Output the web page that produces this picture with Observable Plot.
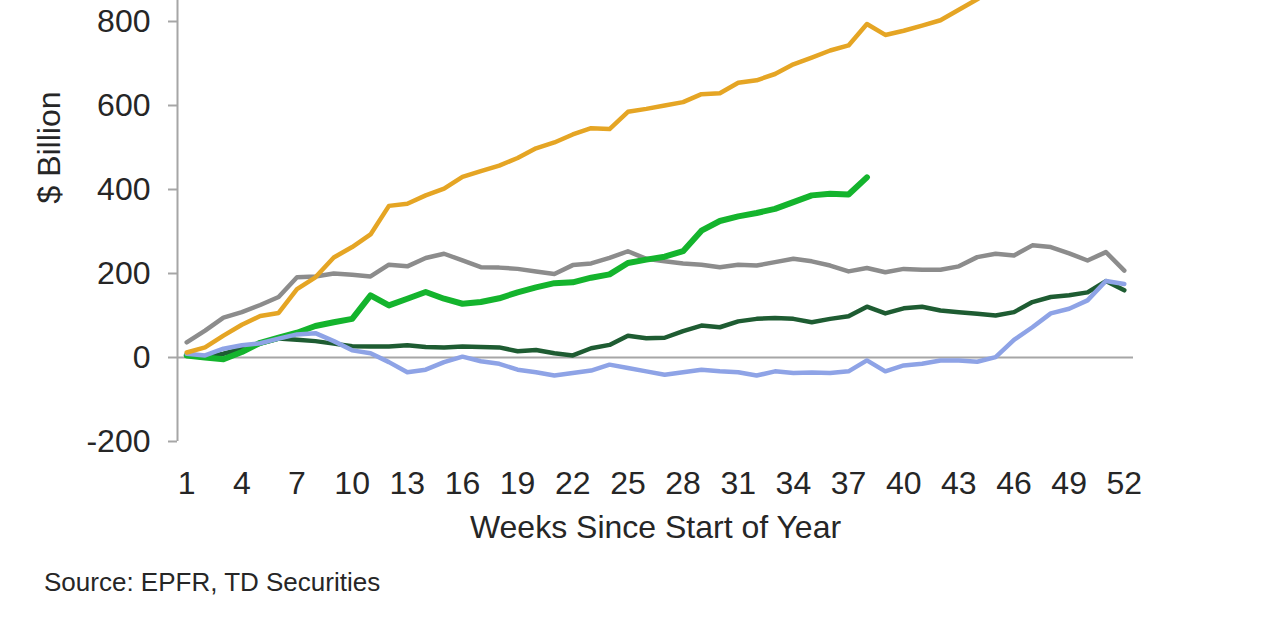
<!DOCTYPE html>
<html>
<head>
<meta charset="utf-8">
<script src="https://cdn.jsdelivr.net/npm/d3@7"></script>
<script src="https://cdn.jsdelivr.net/npm/@observablehq/plot@0.6"></script>
<style>
  html, body { margin: 0; padding: 0; background: #ffffff; overflow: hidden; }
  #chart svg { display: block; margin-top: -147px; }
  #caption {
    font-family: "Liberation Sans", Arial, sans-serif;
    font-size: 26px; line-height: 30px; color: #262626;
    margin: 16px 0 0 44px;
  }
</style>
</head>
<body>
<div id="chart"></div>
<div id="caption">Source: EPFR, TD Securities</div>
<script>
// Categories: weeks since start of year
const weeks = [1,2,3,4,5,6,7,8,9,10,11,12,13,14,15,16,17,18,19,20,21,22,23,24,25,26,
               27,28,29,30,31,32,33,34,35,36,37,38,39,40,41,42,43,44,45,46,47,48,49,50,51,52];

// Series values ($ billion)
const orangeSeries = [12,24,52,78,99,106,163,191,238,263,293,361,366,386,402,430,444,457,475,498,
                      512,531,546,544,585,592,600,608,627,629,654,660,675,698,714,731,743,794,768,778,
                      790,803,828,853,880,null,null,null,null,null,null,null];
const brightGreenSeries = [5,0,-4,13,35,47,59,75,84,92,148,124,140,156,140,128,132,141,155,167,
                      177,179,190,198,225,233,240,253,302,325,336,344,354,370,386,390,388,429,null,null,
                      null,null,null,null,null,null,null,null,null,null,null,null];
const greySeries = [36,64,95,108,125,144,191,193,200,197,193,221,217,237,247,231,215,214,211,205,
                      199,220,224,237,253,235,229,224,221,215,221,219,227,235,229,219,205,213,203,211,
                      209,209,217,239,247,243,267,263,248,231,251,207];
const darkGreenSeries = [5,0,9,21,33,45,42,39,33,27,26,26,29,25,24,26,25,24,15,18,
                      10,5,22,30,52,46,47,63,76,72,86,92,94,92,84,92,98,121,105,117,
                      121,112,108,104,100,108,132,144,148,155,182,160];
const blueSeries = [9,5,21,29,34,45,55,58,39,17,10,-11,-35,-29,-11,2,-9,-15,-29,-35,
                      -43,-37,-31,-17,-25,-33,-41,-35,-29,-33,-35,-43,-33,-37,-36,-37,-33,-7,-33,-19,
                      -15,-7,-7,-10,1,42,72,105,116,136,182,175];

// Tick labels
const xTicks = [1,4,7,10,13,16,19,22,25,28,31,34,37,40,43,46,49,52];
const yTicks = [-200,0,200,400,600,800];

// Scale domains (category axis spans half a week either side)
const xDomain = [0.5, 52.5];
const yDomain = [-200, 1200];

const rows = (vals) => weeks.map((w, i) => ({week: w, value: vals[i]}));

const series = [
  {data: rows(greySeries),       stroke: "#8c8c8c", width: 4.5},
  {data: rows(darkGreenSeries),  stroke: "#1e5c32", width: 4.5},
  {data: rows(brightGreenSeries),stroke: "#14b42d", width: 6},
  {data: rows(blueSeries),       stroke: "#8ea3e6", width: 4.5},
  {data: rows(orangeSeries),     stroke: "#e5a524", width: 4.5}
];

const axisColor = "#a6a6a6";

const chart = Plot.plot({
  width: 1280,
  height: 698,
  marginTop: 0,
  marginLeft: 177,
  marginRight: 147,
  marginBottom: 110,
  style: {
    fontFamily: "'Liberation Sans', Arial, sans-serif",
    fontSize: "32px",
    color: "#262626",
    background: "#ffffff",
    overflow: "visible"
  },
  x: {domain: xDomain, label: "Weeks Since Start of Year"},
  y: {domain: yDomain, label: "$ Billion"},
  marks: [
    Plot.axisX(xTicks, {
      tickSize: 0, tickPadding: 30, tickFormat: d => String(d),
      label: "Weeks Since Start of Year", labelAnchor: "center", labelArrow: "none",
      labelOffset: 96, fontSize: 32
    }),
    Plot.axisY(yTicks, {
      tickSize: 9, tickPadding: 18, stroke: axisColor, strokeWidth: 2,
      tickFormat: d => String(d),
      label: "$ Billion", labelAnchor: "center", labelArrow: "none",
      labelOffset: 140, fontSize: 32
    }),
    Plot.ruleX([xDomain[0]], {y1: yDomain[0], y2: yDomain[1], stroke: axisColor, strokeWidth: 2}),
    Plot.ruleY([0], {stroke: axisColor, strokeWidth: 2}),
    ...series.map(s => Plot.line(s.data, {
      x: "week", y: "value",
      stroke: s.stroke, strokeWidth: s.width,
      strokeLinejoin: "round", strokeLinecap: "round"
    }))
  ]
});

document.getElementById("chart").appendChild(chart);
</script>
</body>
</html>
